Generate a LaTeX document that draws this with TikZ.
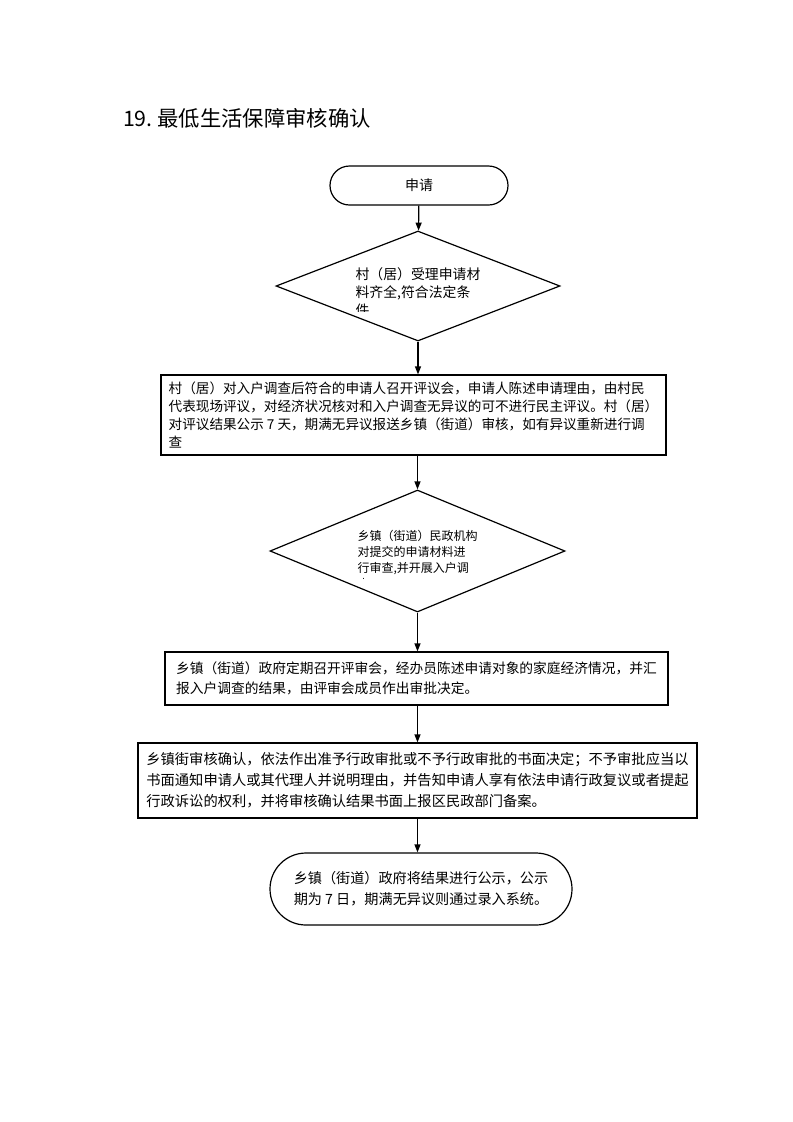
\documentclass[tikz,border=0pt]{standalone}
\usepackage{fontspec}
\setmainfont{Noto Sans CJK SC}
\usetikzlibrary{arrows.meta,shapes.geometric}

\begin{document}
\begin{tikzpicture}[x=0.75pt, y=-0.75pt, line width=0.9pt,
    box/.style = {draw, rectangle, align=left, inner sep=0pt},
    term/.style = {draw, rectangle, align=left, inner sep=0pt},
    dia/.style = {draw, diamond, inner sep=0pt},
    dtext/.style = {align=left, inner sep=0pt},
    flow/.style = {-{Triangle[length=6pt,width=4.5pt]}}]
    \useasboundingbox (0,0) rectangle (793,1122);

    \node[anchor=west, font=\fontsize{16}{19}\selectfont] (ttl) at (118,118) {19.\ 最低生活保障审核确认};

    \node[term, minimum width=133.5pt, minimum height=29.25pt, rounded corners=14.6pt, font=\fontsize{10.5}{13}\selectfont] (start) at (419,185.5) {申请};

    \node[dia, minimum width=213pt, minimum height=82.5pt] (chk1) at (418,286) {};
    \begin{scope}
        \clip (330,262) rectangle (505,311);
        \node[dtext, font=\fontsize{10.4}{13.5}\selectfont] (chk1txt) at (418,292.5) {村（居）受理申请材\\料齐全,符合法定条\\件};
    \end{scope}

    \node[box, minimum width=378.75pt, minimum height=60pt, font=\fontsize{10.2}{13.3}\selectfont] (rev1) at (413.5,415) {村（居）对入户调查后符合的申请人召开评议会，申请人陈述申请理由，由村民\\代表现场评议，对经济状况核对和入户调查无异议的可不进行民主评议。村（居）\\对评议结果公示 7 天，期满无异议报送乡镇（街道）审核，如有异议重新进行调\\查};

    \node[dia, minimum width=221.25pt, minimum height=91.5pt] (chk2) at (417.5,551) {};
    \begin{scope}
        \clip (330,525) rectangle (505,578);
        \node[dtext, font=\fontsize{9}{12}\selectfont] (chk2txt) at (417.5,560) {乡镇（街道）民政机构\\对提交的申请材料进\\行审查,并开展入户调\\查};
    \end{scope}

    \node[box, minimum width=377.25pt, minimum height=39.75pt, font=\fontsize{10.3}{15}\selectfont] (ver) at (416.5,678.5) {乡镇（街道）政府定期召开评审会，经办员陈述申请对象的家庭经济情况，并汇\\报入户调查的结果，由评审会成员作出审批决定。};

    \node[box, minimum width=419.25pt, minimum height=56.25pt, font=\fontsize{10.7}{15.75}\selectfont] (dec) at (417.5,780.5) {乡镇街审核确认，依法作出准予行政审批或不予行政审批的书面决定；不予审批应当以\\书面通知申请人或其代理人并说明理由，并告知申请人享有依法申请行政复议或者提起\\行政诉讼的权利，并将审核确认结果书面上报区民政部门备案。};

    \node[term, minimum width=226.5pt, minimum height=54pt, rounded corners=27pt, font=\fontsize{10.6}{15.75}\selectfont] (finish) at (421,889) {乡镇（街道）政府将结果进行公示，公示\\期为 7 日，期满无异议则通过录入系统。};

    \draw[flow] (start) -- (chk1);
    \draw[flow] (chk1.south) -- (chk1.south |- rev1.north);
    \draw[flow] (chk2.north |- rev1.south) -- (chk2.north);
    \draw[flow] (chk2.south) -- (chk2.south |- ver.north);
    \draw[flow] (dec.north |- ver.south) -- (dec.north);
    \draw[flow] (dec.south) -- (dec.south |- finish.north);

\end{tikzpicture}
\end{document}
